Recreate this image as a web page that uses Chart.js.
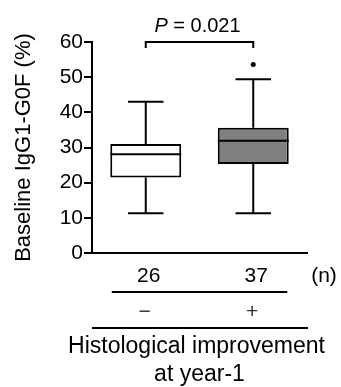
<!DOCTYPE html>
<html>
<head>
<meta charset="utf-8">
<script src="https://cdn.jsdelivr.net/npm/chart.js@4"></script>
<style>
  body { margin: 0; background: #fff; }
  #wrap { width: 341px; height: 387px; }
</style>
</head>
<body>
<div id="wrap"><canvas id="chart-box"></canvas></div>
<script>
const groups = ["−", "+"];
const counts = ["26", "37"];
const mins = [11.3, 11.3];
const q1s = [21.5, 25.3];
const medians = [28.1, 31.9];
const q3s = [31.0, 35.6];
const maxs = [43.0, 49.4];
const outliers = [null, 53.6];
const pText = "0.021";

const FONT = "'Liberation Sans', Arial, sans-serif";

const boxPlugin = {
  id: "boxExtras",
  afterDatasetsDraw(chart) {
    const { ctx, scales } = chart;
    const y = scales.y;
    const meta = chart.getDatasetMeta(0);
    ctx.save();
    ctx.strokeStyle = "#000";
    ctx.lineWidth = 2;
    meta.data.forEach((bar, i) => {
      const cx = bar.x;
      const half = bar.width / 2;
      const cap = half / 2;
      ctx.beginPath();
      // whiskers
      ctx.moveTo(cx, y.getPixelForValue(q3s[i]));
      ctx.lineTo(cx, y.getPixelForValue(maxs[i]));
      ctx.moveTo(cx, y.getPixelForValue(q1s[i]));
      ctx.lineTo(cx, y.getPixelForValue(mins[i]));
      // caps
      ctx.moveTo(cx - cap, y.getPixelForValue(maxs[i]));
      ctx.lineTo(cx + cap, y.getPixelForValue(maxs[i]));
      ctx.moveTo(cx - cap, y.getPixelForValue(mins[i]));
      ctx.lineTo(cx + cap, y.getPixelForValue(mins[i]));
      // median
      ctx.moveTo(cx - half, y.getPixelForValue(medians[i]));
      ctx.lineTo(cx + half, y.getPixelForValue(medians[i]));
      ctx.stroke();
    });
    ctx.restore();
  },
  afterDraw(chart) {
    const { ctx, scales, chartArea } = chart;
    const x = scales.x, y = scales.y;
    const c1 = x.getPixelForValue(0), c2 = x.getPixelForValue(1);
    const b = chartArea.bottom;
    ctx.save();
    ctx.strokeStyle = "#000";
    ctx.fillStyle = "#000";
    ctx.lineWidth = 2;
    // significance bracket
    const by = y.getPixelForValue(60);
    ctx.beginPath();
    ctx.moveTo(c1, by + 6);
    ctx.lineTo(c1, by);
    ctx.lineTo(c2, by);
    ctx.lineTo(c2, by + 6);
    ctx.stroke();
    ctx.textBaseline = "alphabetic";
    ctx.font = "italic 20px " + FONT;
    const wP = ctx.measureText("P").width;
    ctx.font = "20px " + FONT;
    const rest = " = " + pText;
    const wR = ctx.measureText(rest).width;
    const sx = (c1 + c2) / 2 - 2 - (wP + wR) / 2;
    ctx.textAlign = "left";
    ctx.font = "italic 20px " + FONT;
    ctx.fillText("P", sx, by - 10);
    ctx.font = "20px " + FONT;
    ctx.fillText(rest, sx + wP, by - 10);

    // n row
    ctx.textAlign = "center";
    ctx.font = "21px " + FONT;
    counts.forEach((t, i) => ctx.fillText(t, x.getPixelForValue(i) + 3, b + 29));
    ctx.fillText("(n)", chartArea.right + 17, b + 29);
    ctx.beginPath();
    ctx.moveTo(c1 - 34, b + 39);
    ctx.lineTo(c2 + 34, b + 39);
    ctx.stroke();
    // group signs
    ctx.font = "21px " + FONT;
    ctx.fillStyle = "#333";
    ctx.textBaseline = "middle";
    groups.forEach((t, i) => ctx.fillText(t, x.getPixelForValue(i) - 1, b + 59));
    ctx.fillStyle = "#000";
    ctx.beginPath();
    ctx.moveTo(chartArea.left, b + 75);
    ctx.lineTo(chartArea.right + 1, b + 75);
    ctx.stroke();
    // group title
    ctx.textBaseline = "alphabetic";
    ctx.font = "23px " + FONT;
    ctx.fillText("Histological improvement", (chartArea.left + chartArea.right) / 2 - 3, b + 100);
    ctx.fillText("at year-1", (chartArea.left + chartArea.right) / 2, b + 128);
    ctx.restore();
  }
};

new Chart(document.getElementById("chart-box"), {
  type: "bar",
  data: {
    labels: groups,
    datasets: [
      {
        label: "IQR",
        data: q1s.map((v, i) => [v, q3s[i]]),
        backgroundColor: ["#ffffff", "#808080"],
        borderColor: "#000",
        borderWidth: 2,
        borderSkipped: false,
        barPercentage: 0.66,
        categoryPercentage: 1,
      },
      {
        type: "line",
        label: "Outliers",
        data: outliers,
        showLine: false,
        pointRadius: 2.5,
        pointBackgroundColor: "#000",
        pointBorderWidth: 0,
      },
    ],
  },
  options: {
    responsive: true,
    maintainAspectRatio: false,
    animation: false,
    layout: { padding: { top: 42, right: 34, bottom: 134, left: 2 } },
    plugins: { legend: { display: false }, tooltip: { enabled: false } },
    scales: {
      x: {
        ticks: { display: false },
        grid: { display: false },
        border: { display: true, color: "#000", width: 2 },
        afterFit: (s) => { s.height = 0; },
      },
      y: {
        min: 0,
        max: 60,
        ticks: { stepSize: 10, padding: 1, color: "#000", font: { size: 21, family: FONT } },
        grid: { drawOnChartArea: false, drawTicks: true, tickLength: 8, color: "#000", lineWidth: 2 },
        border: { display: true, color: "#000", width: 2 },
        title: {
          display: true,
          text: "Baseline IgG1-G0F (%)",
          color: "#000",
          font: { size: 22, family: FONT },
          padding: { top: 9, bottom: 0 },
        },
        afterFit: (s) => { s.width = 90; },
      },
    },
  },
  plugins: [boxPlugin],
});
</script>
</body>
</html>
